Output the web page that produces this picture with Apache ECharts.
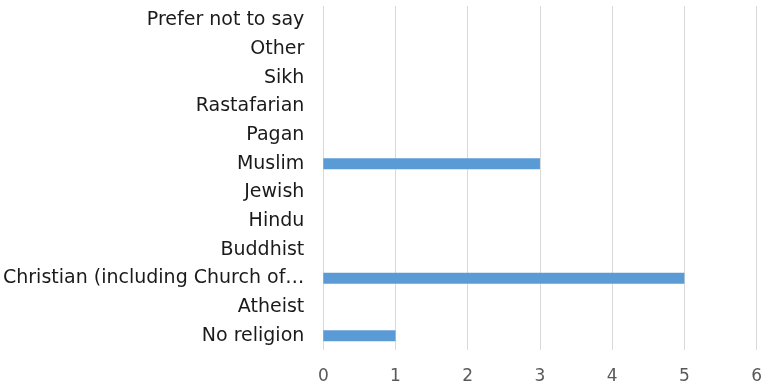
<!DOCTYPE html>
<html><head><meta charset="utf-8">
<script src="https://cdn.jsdelivr.net/npm/echarts@6/dist/echarts.min.js"></script>
<style>html,body{margin:0;padding:0;background:#fff}#c{width:765px;height:388px}</style>
</head><body><div id="c"></div>
<script>
const categories = ["No religion","Atheist","Christian (including Church of England, Catholic, Protestant and all other Christian denominations)","Buddhist","Hindu","Jewish","Muslim","Pagan","Rastafarian","Sikh","Other","Prefer not to say"];
const values = [1,0,5,0,0,0,3,0,0,0,0,0];
const xTicks = [0,1,2,3,4,5,6];
const FONT = 'Tahoma, Verdana, "DejaVu Sans", sans-serif';
const chart = echarts.init(document.getElementById('c'));
chart.setOption({
  animation:false,
  grid:{left:322,right:8,top:6,bottom:38,containLabel:false},
  xAxis:{type:'value',min:0,max:6,interval:1,
    axisLine:{show:false},axisTick:{show:false},
    splitLine:{lineStyle:{color:'#d9d9d9',width:1}},
    axisLabel:{color:'#595959',fontSize:17,fontFamily:FONT,margin:18,
      formatter:v=>xTicks.includes(v)?String(v):''}},
  yAxis:{type:'category',data:categories,
    axisLine:{show:false},axisTick:{show:false},
    axisLabel:{color:'#1a1a1a',fontSize:19,fontFamily:FONT,margin:19,
      width:307,overflow:'truncate',ellipsis:'…'}},
  series:[{type:'bar',data:values,barWidth:11,itemStyle:{color:'#5b9bd5'}}]
});
</script></body></html>
